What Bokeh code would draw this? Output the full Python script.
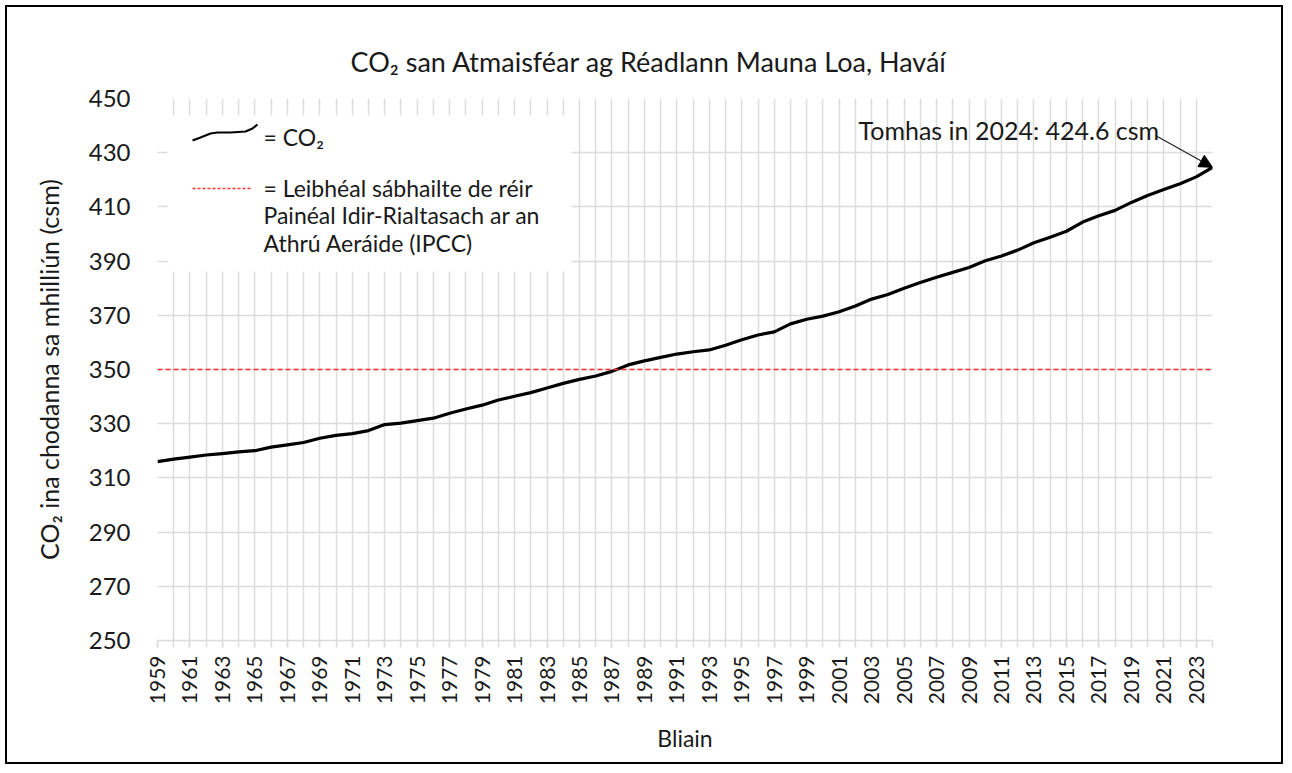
import math
from bokeh.plotting import figure
from bokeh.models import (Range1d, FixedTicker, Span, Label, Arrow, NormalHead,
                          BoxAnnotation, Title)
from bokeh.embed import file_html
from bokeh.resources import INLINE

# ---------------- data ----------------
years = list(range(1959, 2025))
co2 = [315.98, 316.91, 317.64, 318.45, 318.99, 319.62, 320.04, 321.37, 322.18, 323.05,
       324.62, 325.68, 326.32, 327.46, 329.68, 330.19, 331.13, 332.03, 333.84, 335.41,
       336.84, 338.76, 340.12, 341.48, 343.15, 344.87, 346.35, 347.61, 349.31, 351.69,
       353.20, 354.45, 355.70, 356.54, 357.21, 358.96, 360.97, 362.74, 363.88, 366.84,
       368.54, 369.71, 371.32, 373.45, 375.98, 377.70, 379.98, 382.09, 384.02, 385.83,
       387.64, 390.10, 391.85, 394.06, 396.74, 398.81, 401.01, 404.41, 406.76, 408.72,
       411.65, 414.21, 416.41, 418.53, 421.08, 424.6]
safe_level = 350
y_ticks = list(range(250, 451, 20))
x_label_years = list(range(1959, 2024, 2))

title_text = "CO₂ san Atmaisféar ag Réadlann Mauna Loa, Haváí"
y_title = "CO₂ ina chodanna sa mhilliún (csm)"
x_title = "Bliain"
legend_co2 = "= CO₂"
legend_safe = ["= Leibhéal sábhailte de réir",
               "Painéal Idir-Rialtasach ar an",
               "Athrú Aeráide (IPCC)"]
note_text = f"Tomhas in {years[-1]}: {co2[-1]} csm"

FONT = "Lato"
GRID = "#dcdcdc"
TXT = "#1a1a1a"
RED = "#ff3030"

# ---------------- geometry (page pixels) ----------------
MARGIN = 5
BORDER = 2
W, H = 1278, 759            # canvas; CSS border is drawn outside it
OX = MARGIN + BORDER        # canvas origin on page
FL, FR, FT, FB = 157, 1212, 98, 640   # frame edges on page
XMIN, XMAX, YMIN, YMAX = years[0], years[-1], y_ticks[0], y_ticks[-1]

def px2x(px):
    return XMIN + (px - FL) / (FR - FL) * (XMAX - XMIN)

def py2y(py):
    return YMIN + (FB - py) / (FB - FT) * (YMAX - YMIN)

p = figure(width=W, height=H, output_backend="svg", toolbar_location=None,
           x_range=Range1d(XMIN, XMAX), y_range=Range1d(YMIN, YMAX),
           min_border_left=FL - OX, min_border_right=W - (FR - OX),
           min_border_top=FT - OX, min_border_bottom=H - (FB - OX))
p.styles = {"border": f"{BORDER}px solid black", "margin-left": f"{MARGIN}px",
            "margin-top": f"{MARGIN}px"}
p.outline_line_color = None
p.background_fill_color = "white"
p.border_fill_color = "white"

p.title = Title(text=title_text, align="left", offset=193, text_font=FONT,
                text_font_size="27px", text_font_style="normal",
                text_color=TXT, standoff=42)

# axes
p.xaxis.ticker = FixedTicker(ticks=x_label_years, minor_ticks=years)
p.xaxis.major_label_orientation = math.pi / 2
p.xaxis.major_label_text_font = FONT
p.xaxis.major_label_text_font_size = "21px"
p.xaxis.major_label_text_color = TXT
p.xaxis.major_label_standoff = 8
p.xaxis.axis_line_color = GRID
p.xaxis.axis_line_width = 1.5
p.xaxis.major_tick_line_color = GRID
p.xaxis.minor_tick_line_color = GRID
p.xaxis.major_tick_line_width = 1.5
p.xaxis.minor_tick_line_width = 1.5
p.xaxis.major_tick_in = 0
p.xaxis.major_tick_out = 7
p.xaxis.minor_tick_in = 0
p.xaxis.minor_tick_out = 7
p.xaxis.axis_label = x_title
p.xaxis.axis_label_text_font = FONT
p.xaxis.axis_label_text_font_style = "normal"
p.xaxis.axis_label_text_font_size = "23px"
p.xaxis.axis_label_text_color = TXT
p.xaxis.axis_label_standoff = 17

p.yaxis.ticker = FixedTicker(ticks=y_ticks)
p.yaxis.major_label_text_font = FONT
p.yaxis.major_label_text_font_size = "24px"
p.yaxis.major_label_text_color = TXT
p.yaxis.major_label_standoff = 21
p.yaxis.axis_line_color = None
p.yaxis.major_tick_line_color = None
p.yaxis.minor_tick_line_color = None
p.yaxis.axis_label = y_title
p.yaxis.axis_label_text_font = FONT
p.yaxis.axis_label_text_font_style = "normal"
p.yaxis.axis_label_text_font_size = "25px"
p.yaxis.axis_label_text_color = TXT
p.yaxis.axis_label_standoff = 22

p.xgrid.ticker = FixedTicker(ticks=years)
p.xgrid.grid_line_color = GRID
p.xgrid.grid_line_width = 1.5
p.ygrid.grid_line_color = GRID
p.ygrid.grid_line_width = 1.5

# data
p.line(years, co2, line_color="black", line_width=3.2, line_join="round")
p.add_layout(Span(location=safe_level, dimension="width", line_color=RED,
                  line_dash="5 3", line_width=1.6))

# legend box (custom)
p.add_layout(BoxAnnotation(left=px2x(167), right=px2x(571), top=py2y(115),
                           bottom=py2y(271), fill_color="white", fill_alpha=1,
                           line_color=None, level="annotation"))
sq_px = [192, 200, 210, 217, 230, 245, 252, 257]
sq_py = [140, 137, 133, 132, 132, 131, 128, 124]
p.line([px2x(v) for v in sq_px], [py2y(v) for v in sq_py], line_color="black",
       line_width=2.2, level="overlay")
p.line([px2x(192), px2x(250)], [py2y(188), py2y(188)], line_color=RED,
       line_dash="3 2", line_width=1.3, level="overlay")
p.add_layout(Label(x=px2x(263), y=py2y(136), text=legend_co2, text_font=FONT,
                   text_font_size="23px", text_baseline="middle",
                   text_color=TXT, level="overlay"))
for i, t in enumerate(legend_safe):
    p.add_layout(Label(x=px2x(263), y=py2y(187 + 27.5 * i), text=t, text_font=FONT,
                       text_font_size="23px", text_baseline="middle",
                       text_color=TXT, level="overlay"))

# annotation
p.add_layout(Label(x=px2x(858), y=py2y(129), text=note_text, text_font=FONT,
                   text_font_size="25px", text_baseline="middle",
                   text_color=TXT))
p.add_layout(Arrow(end=NormalHead(size=13, fill_color="black", line_color="black"),
                   x_start=px2x(1155), y_start=py2y(135),
                   x_end=years[-1], y_end=co2[-1],
                   line_color="#222222", line_width=1.2))

open("out.html", "w").write(file_html(p, INLINE))
